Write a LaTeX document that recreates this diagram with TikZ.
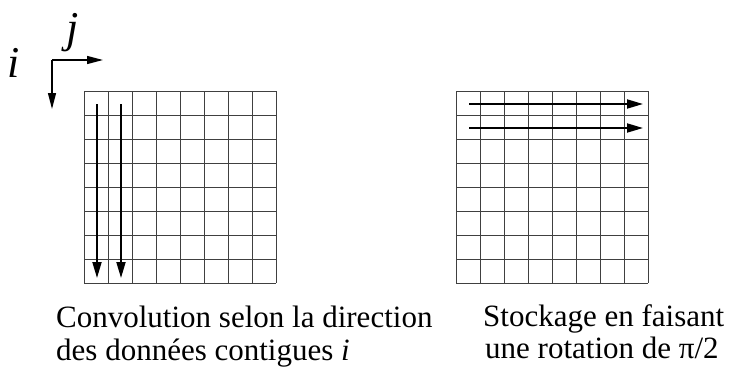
\documentclass[tikz,border=0pt]{standalone}
\usepackage{fontspec}
\setmainfont{Liberation Serif}
\usetikzlibrary{arrows.meta}
\tikzset{
  gridline/.style={draw=black!75, line width=0.9pt},
  flowarrow/.style={line width=1.8pt, -{Triangle[length=16pt,width=9pt]}},
  axisarrow/.style={line width=1.3pt, -{Triangle[length=16pt,width=8pt]}},
  caption/.style={anchor=base west, inner sep=0pt, font=\fontsize{31}{33}\selectfont},
  axislabel/.style={inner sep=0pt, font=\fontsize{44}{44}\selectfont\itshape}
}
\begin{document}
\begin{tikzpicture}[x=1pt,y=-1pt]
\useasboundingbox (0,0) rectangle (738,369);
% left grid
\foreach \k in {0,...,8} {
  \draw[gridline] (84+24*\k,91) -- (84+24*\k,283);
  \draw[gridline] (84,91+24*\k) -- (276,91+24*\k);
}
% right grid
\foreach \k in {0,...,8} {
  \draw[gridline] (456+24*\k,91) -- (456+24*\k,283);
  \draw[gridline] (456,91+24*\k) -- (648,91+24*\k);
}
% axes
\coordinate (o) at (52,60);
\coordinate (jend) at (103,60);
\coordinate (iend) at (52,109);
\draw[axisarrow] (o) -- (jend);
\draw[axisarrow] (o) -- (iend);
\node[axislabel] (ilab) at (14,63) {i};
\node[axislabel] (jlab) at (73,33) {j};
% left arrows
\coordinate (a1s) at (97,104);  \coordinate (a1e) at (97,278);
\coordinate (a2s) at (121,104); \coordinate (a2e) at (121,278);
\draw[flowarrow] (a1s) -- (a1e);
\draw[flowarrow] (a2s) -- (a2e);
% right arrows
\coordinate (b1s) at (469,104); \coordinate (b1e) at (643,104);
\coordinate (b2s) at (469,128); \coordinate (b2e) at (643,128);
\draw[flowarrow] (b1s) -- (b1e);
\draw[flowarrow] (b2s) -- (b2e);
% captions
\node[caption] (c1) at (56,327) {Convolution selon la direction};
\node[caption] (c2) at (56,360) {des données contigues \textit{i}};
\node[caption] (c3) at (483,326) {Stockage en faisant};
\node[caption] (c4) at (485,358) {une rotation de π/2};
\end{tikzpicture}
\end{document}
